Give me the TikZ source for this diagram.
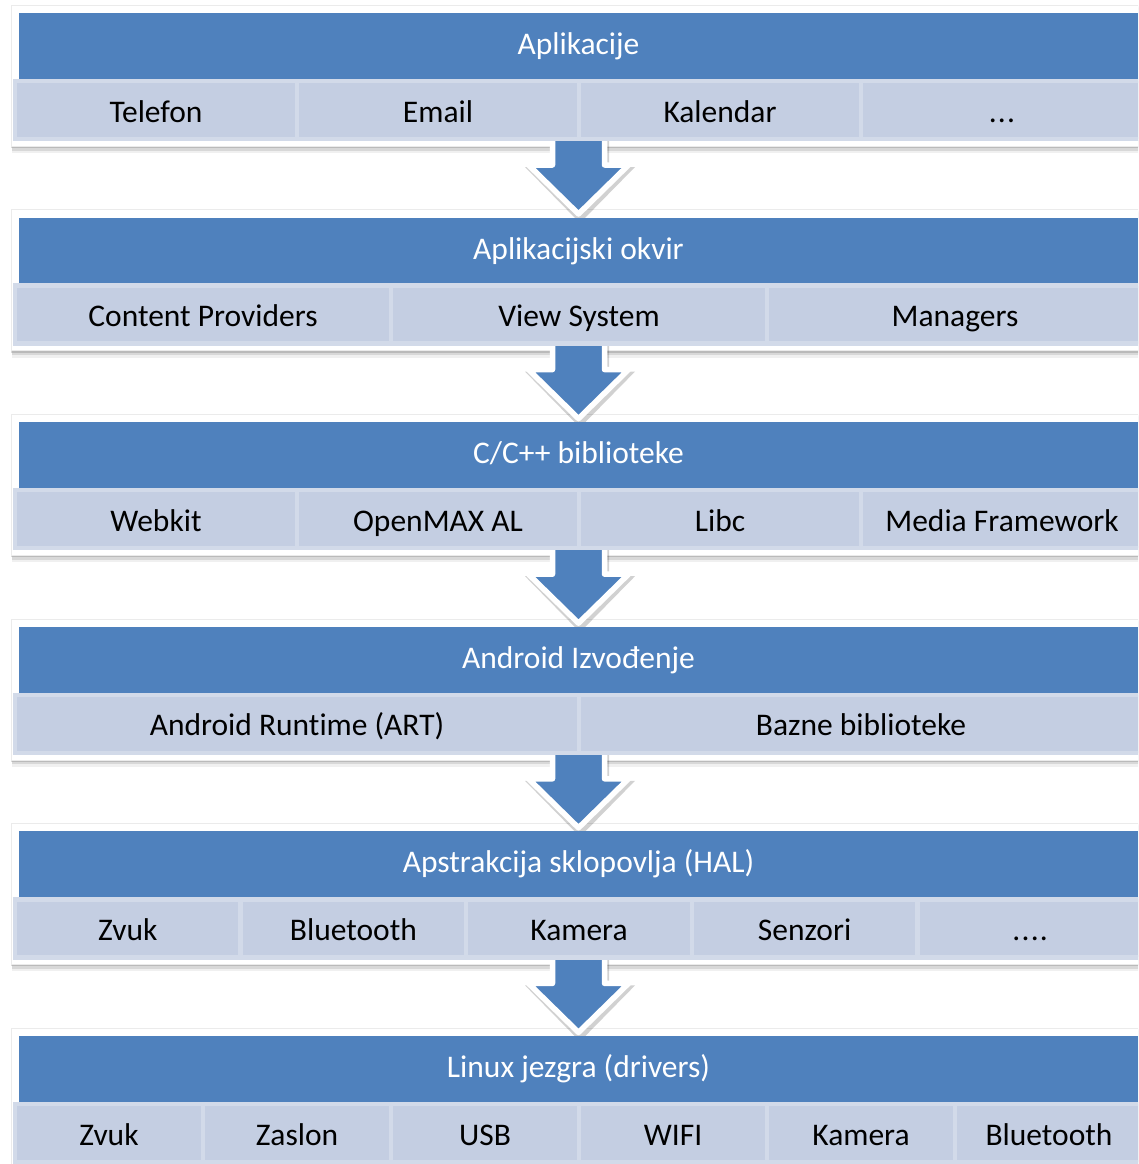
\documentclass[tikz,border=0pt]{standalone}
\usepackage{fontspec}
\setmainfont{Carlito}[Ligatures={NoCommon}]
\definecolor{hdrblue}{HTML}{4F81BD}
\definecolor{cellfill}{HTML}{C4CEE2}
\definecolor{cellline}{HTML}{D2DAE9}
\newcommand\mydotsthree{.\kern0.04em.\kern0.04em.}
\newcommand\mydotsfour{.\kern0.04em.\kern0.04em.\kern0.04em.}
\newcommand\mycpp{C/C++}
\begin{document}
\begin{tikzpicture}[x=1pt,y=-1pt,
  cellbox/.style={draw=cellline, line width=4.5pt, fill=cellfill, inner sep=0pt, outer sep=0pt,
    minimum height=58pt, font=\fontsize{31.5}{36}\selectfont, text=black,
    text height=24pt, text depth=0pt},
  headbox/.style={fill=hdrblue, inner sep=0pt, outer sep=0pt, minimum width=1119pt,
    minimum height=66pt, font=\fontsize{31.5}{36}\selectfont, text=white,
    text height=22pt, text depth=5pt},
  layerbox/.style={fill=white, draw=black!8, line width=0.6pt},
  blockarrow/.style={fill=hdrblue, draw=white, line width=5.5pt, line join=round}
]
\useasboundingbox (0,0) rectangle (1138,1164);
\clip (0,0) rectangle (1138,1164);
% layer boxes with shadows
\foreach \k in {0,1,2,3,4,5}{
  \pgfmathsetmacro\L{204.6*\k}
  \fill[black, opacity=0.06] (12,{8+\L}) rectangle (1160,{153+\L});
  \fill[black, opacity=0.10] (11.5,{7+\L}) rectangle (1160,{150.5+\L});
  \fill[black, opacity=0.14] (11,{6+\L}) rectangle (1160,{148+\L});
  \path[layerbox] (11,{5+\L}) rectangle (1160,{146+\L});
}
% arrows
\foreach \k in {0,1,2,3,4}{
  \pgfmathsetmacro\L{204.6*\k}
  \fill[black, opacity=0.18, shift={(1.5,4)}]
    (549.5,{136+\L}) -- (607.5,{136+\L}) -- (607.5,{163+\L}) -- (633.5,{163+\L})
    -- (578.5,{219+\L}) -- (523.5,{163+\L}) -- (549.5,{163+\L}) -- cycle;
  \path[blockarrow]
    (552.5,{136+\L}) -- (604.5,{136+\L}) -- (604.5,{165+\L}) -- (628.5,{165+\L})
    -- (578.5,{214+\L}) coordinate (tip\k) -- (528.5,{165+\L}) -- (552.5,{165+\L}) -- cycle;
}
% headers and cells
\foreach \k/\title/\n/\items in {
  0/{Aplikacije}/4/{Telefon,Email,Kalendar,\mydotsthree},
  1/{Aplikacijski okvir}/3/{Content Providers,View System,Managers},
  2/{\mycpp{} biblioteke}/4/{Webkit,OpenMAX AL,Libc,Media Framework},
  3/{Android Izvođenje}/2/{Android Runtime (ART),Bazne biblioteke},
  4/{Apstrakcija sklopovlja (HAL)}/5/{Zvuk,Bluetooth,Kamera,Senzori,\mydotsfour},
  5/{Linux jezgra (drivers)}/6/{Zvuk,Zaslon,USB,WIFI,Kamera,Bluetooth}}{
  \pgfmathsetmacro\L{204.6*\k}
  \pgfmathsetmacro\w{1128/\n}
  \node[headbox] (head\k) at (578.5,{46+\L}) {\title};
  \foreach \c [count=\i from 0] in \items {
    \node[cellbox, minimum width=\w pt] (cell\k-\i) at ({15+\w*(\i+0.5)},{110+\L}) {\c};
  }
}
\end{tikzpicture}
\end{document}
